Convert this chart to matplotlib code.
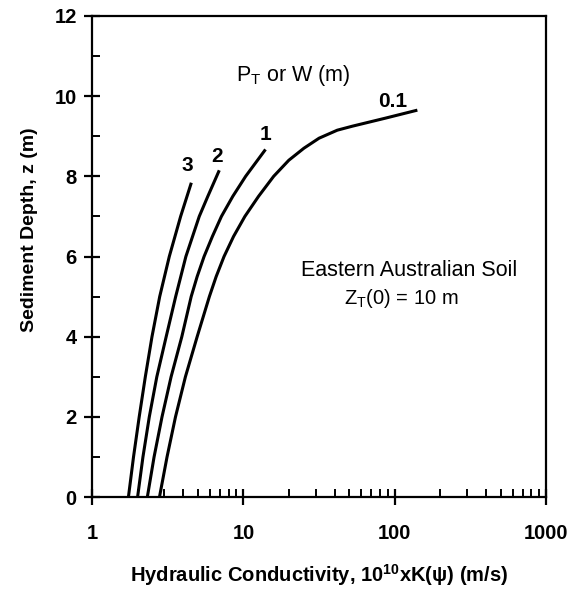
import matplotlib.pyplot as plt
from matplotlib.ticker import FixedLocator, NullFormatter, LogLocator

plt.rcParams['font.family'] = ['Liberation Sans', 'DejaVu Sans']
plt.rcParams['mathtext.fontset'] = 'custom'
plt.rcParams['mathtext.rm'] = 'Liberation Sans'
plt.rcParams['mathtext.it'] = 'Liberation Sans:italic'
plt.rcParams['mathtext.bf'] = 'Liberation Sans:bold'

# depth z (m) and conductivity, one pair per curve
z_01 = [0.0, 1.0, 2.0, 3.0, 4.0, 5.0, 5.5, 6.0, 6.5, 7.0, 7.5, 8.0, 8.4, 8.7,
        8.95, 9.15, 9.25, 9.45, 9.65]
k_01 = [2.79, 3.13, 3.56, 4.14, 4.95, 5.96, 6.61, 7.45, 8.61, 10.23, 12.59, 15.85,
        19.95, 25.1, 31.6, 41.7, 52.5, 86.7, 141.0]

z_1 = [0.0, 1.0, 2.0, 3.0, 4.0, 5.0, 5.5, 6.0, 6.5, 7.0, 7.5, 8.0, 8.67]
k_1 = [2.32, 2.57, 2.90, 3.33, 3.92, 4.52, 4.95, 5.50, 6.24, 7.16, 8.51, 10.35, 14.0]

z_2 = [0.0, 1.0, 2.0, 3.0, 4.0, 5.0, 6.0, 7.0, 7.5, 8.15]
k_2 = [2.0, 2.17, 2.39, 2.68, 3.09, 3.57, 4.17, 5.11, 5.82, 6.93]

z_3 = [0.0, 1.0, 2.0, 3.0, 4.0, 5.0, 6.0, 7.0, 7.84]
k_3 = [1.74, 1.88, 2.05, 2.25, 2.49, 2.80, 3.24, 3.85, 4.53]

curve_labels = ['0.1', '1', '2', '3']
label_x = [96.6, 14.0, 6.7, 4.24]
label_z = [9.86, 9.05, 8.49, 8.28]

fig = plt.figure(figsize=(5.86, 5.89), dpi=100)
ax = fig.add_axes([0.157, 0.156, 0.775, 0.817])

for k, z in [(k_01, z_01), (k_1, z_1), (k_2, z_2), (k_3, z_3)]:
    ax.plot(k, z, color='black', linewidth=2.2, solid_capstyle='butt',
            solid_joinstyle='round')

for lab, x, z in zip(curve_labels, label_x, label_z):
    ax.text(x, z, lab, ha='center', va='center', fontsize=15, fontweight='bold')

ax.text(21.5, 10.52, r'P$_\mathrm{T}$ or W (m)', ha='center', va='center', fontsize=15.5)
ax.text(124, 5.66, 'Eastern Australian Soil', ha='center', va='center', fontsize=15.5)
ax.text(110, 4.96, r'Z$_\mathrm{T}$(0) = 10 m', ha='center', va='center', fontsize=14.5)

ax.set_xscale('log')
ax.set_xlim(1, 1000)
ax.set_ylim(0, 12)
ax.set_xticks([1, 10, 100, 1000])
ax.set_xticklabels(['1', '10', '100', '1000'])
ax.xaxis.set_minor_locator(LogLocator(base=10, subs=range(2, 10)))
ax.xaxis.set_minor_formatter(NullFormatter())
ax.set_yticks([0, 2, 4, 6, 8, 10, 12])
ax.yaxis.set_minor_locator(FixedLocator([1, 3, 5, 7, 9, 11]))

for s in ax.spines.values():
    s.set_linewidth(1.6)

ax.tick_params(which='major', direction='inout', length=12, width=1.6,
               labelsize=14.5, pad=5)
ax.tick_params(which='minor', direction='in', length=6, width=1.4)
ax.tick_params(axis='x', which='major', pad=13)
for t in ax.get_xticklabels() + ax.get_yticklabels():
    t.set_fontweight('bold')

ax.set_xlabel(r'Hydraulic Conductivity, 10$^{\mathbf{10}}$xK(ψ) (m/s)',
              fontsize=14.5, fontweight='bold', labelpad=14)
ax.set_ylabel('Sediment Depth, z (m)', fontsize=14, fontweight='bold', labelpad=12)
ax.yaxis.label.set_y(0.555)

fig.savefig('out.png', dpi=100)
